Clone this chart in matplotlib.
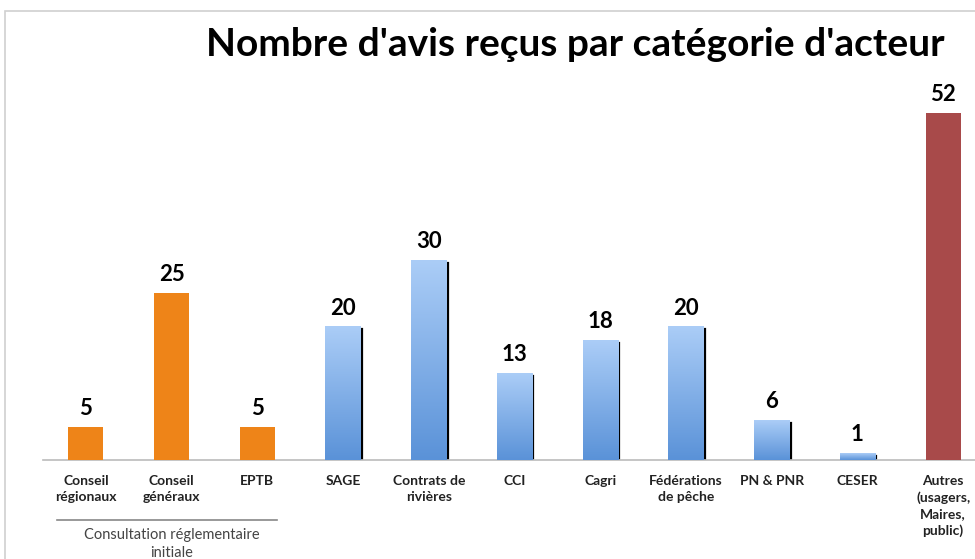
import numpy as np
import matplotlib.pyplot as plt
from matplotlib.patches import Rectangle

# data
categories = ['Conseil\nrégionaux', 'Conseil\ngénéraux', 'EPTB', 'SAGE', 'Contrats de\nrivières',
              'CCI', 'Cagri', 'Fédérations\nde pêche', 'PN & PNR', 'CESER',
              'Autres\n(usagers,\nMaires,\npublic)']
values = [5, 25, 5, 20, 30, 13, 18, 20, 6, 1, 52]
groups = ['orange', 'orange', 'orange', 'blue', 'blue', 'blue', 'blue', 'blue', 'blue', 'blue', 'red']

ORANGE = '#ee8418'
RED = '#a84a4a'

plt.rcParams['font.family'] = ['Lato', 'DejaVu Sans']

fig = plt.figure(figsize=(9.75, 5.59), dpi=100)
# light frame like the original chart box
fig.patches.append(Rectangle((5 / 975, -0.1), 1.1, 1 - 11 / 559 + 0.1, transform=fig.transFigure,
                             fill=False, ec='#d0d0d0', lw=1.2))

ax = fig.add_axes([43 / 975, 99 / 559, 943 / 975, 400 / 559])
x = np.arange(len(values))
w = 0.41

# vertical gradient for the blue bars
grad = np.linspace(0, 1, 256).reshape(-1, 1)
cmap = plt.matplotlib.colors.LinearSegmentedColormap.from_list('b', ['#5a92d8', '#abcdf7'])

for xi, v, g in zip(x, values, groups):
    if g == 'blue':
        # shadow line on the right
        ax.plot([xi + w / 2 + 0.015] * 2, [0, v - 0.4], color='black', lw=1.6, zorder=2)
        ax.imshow(grad, extent=(xi - w / 2, xi + w / 2, 0, v), origin='lower', cmap=cmap,
                  aspect='auto', zorder=3)
    else:
        ax.bar(xi, v, width=w, color=ORANGE if g == 'orange' else RED, zorder=3)
    ax.text(xi, v + 1.2, str(v), ha='center', va='bottom', fontsize=16, fontweight='bold', color='black')

ax.set_xlim(-0.5, len(values) - 0.5)
ax.set_ylim(0, 60)
ax.set_xticks(x)
ax.set_xticklabels(categories, fontsize=10, fontweight='bold', color='#222222', linespacing=1.4)
ax.tick_params(axis='x', length=0, pad=11)
ax.set_yticks([])
for s in ['top', 'right', 'left']:
    ax.spines[s].set_visible(False)
ax.spines['bottom'].set_color('#bbbbbb')
ax.spines['bottom'].set_linewidth(1.2)

# bracket under the regulatory consultation group
fig.add_artist(plt.Line2D([57 / 975, 277 / 975], [1 - 520 / 559] * 2, color='#888888', lw=1.2))
fig.text(172 / 975, 1 - 544 / 559, 'Consultation réglementaire\ninitiale', ha='center', va='center',
         fontsize=10.5, color='#444444', linespacing=1.3)

fig.text(945 / 975, 1 - 45 / 559, "Nombre d'avis reçus par catégorie d'acteur", ha='right', va='center',
         fontsize=28, fontweight='bold', color='black')

fig.savefig('out.png', dpi=100)
